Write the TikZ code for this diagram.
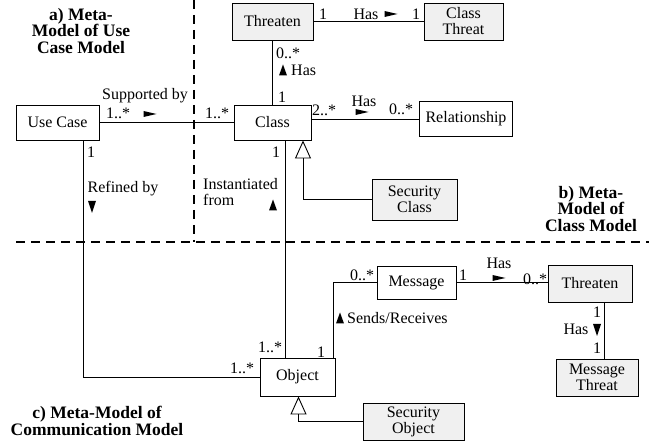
\documentclass[tikz,border=0pt]{standalone}
\usepackage{fontspec}
\setmainfont{Liberation Serif}
\usetikzlibrary{arrows.meta,calc}
\definecolor{boxgray}{RGB}{240,240,240}
\tikzset{
  box/.style={draw, line width=0.9pt, rectangle, align=center, inner sep=0pt,
    font=\fontsize{16}{16}\selectfont},
  gbox/.style={box, fill=boxgray},
  lab/.style={inner sep=0pt, font=\fontsize{16}{16}\selectfont},
  ttl/.style={inner sep=0pt, align=center, font=\fontsize{17.5}{16.5}\selectfont\bfseries},
  conn/.style={line width=0.9pt},
  gen/.style={line width=0.9pt, -{Triangle[open,length=18pt,width=16pt]}},
  sep/.style={line width=2.2pt, dash pattern=on 9pt off 6pt},
  pics/rtri/.style={code={\fill (-6.5,-3) -- (6.5,0) -- (-6.5,3) -- cycle;}},
  pics/utri/.style={code={\fill (-4,5.5) -- (0,-5.5) -- (4,5.5) -- cycle;}},
  pics/dtri/.style={code={\fill (-4,-6) -- (0,6) -- (4,-6) -- cycle;}},
}
\begin{document}
\begin{tikzpicture}[x=1pt,y=-1pt]
\useasboundingbox (0,0) rectangle (649,443);

% separators
\coordinate (vtop) at (194,0);
\coordinate (vbot) at (194,242);
\coordinate (hl) at (16,242);
\coordinate (hr) at (649,242);
\draw[sep] (vtop) -- (vbot);
\draw[sep] (hl) -- (hr);

% boxes
\node[gbox, minimum width=81pt, minimum height=37pt] (threat1) at (272.5,21.5) {Threaten};
\node[gbox, minimum width=79pt, minimum height=37pt] (classthreat) at (463.5,21.5) {Class\\Threat};
\node[box, minimum width=83pt, minimum height=35pt] (usecase) at (57.5,122.5) {Use Case};
\node[box, minimum width=77pt, minimum height=35pt] (class) at (272.5,122.5) {Class};
\node[box, minimum width=93pt, minimum height=35pt] (relationship) at (466,119) {Relationship};
\node[gbox, minimum width=85pt, minimum height=41pt] (secclass) at (414.5,199.5) {Security\\Class};
\node[box, minimum width=75pt, minimum height=38pt] (object) at (297.5,377) {Object};
\node[gbox, minimum width=101pt, minimum height=37pt] (secobject) at (413.5,421.5) {Security\\Object};
\node[box, minimum width=79pt, minimum height=33pt] (message) at (416.5,282.5) {Message};
\node[gbox, minimum width=84pt, minimum height=37pt] (threat2) at (590,283.5) {Threaten};
\node[gbox, minimum width=82pt, minimum height=37pt] (msgthreat) at (597,377.5) {Message\\Threat};

% connectors
\draw[conn] (threat1.east) -- (classthreat.west);
\draw[conn] (threat1.south) -- (class.north);
\draw[conn] (usecase.east) -- (class.west);
\draw[conn] (relationship.west -| class.east) -- (relationship.west);
\draw[gen] (secclass.west) -| ([xshift=30.5pt]class.south);
\draw[conn] ([xshift=25.5pt]usecase.south) |- (object.west);
\draw[conn] ([xshift=12.5pt]class.south) coordinate (cs) -- (cs |- object.north);
\draw[gen] (secobject.west) -| ([xshift=1pt]object.south);
\draw[conn] ([xshift=-2pt]object.north east) |- (message.west);
\draw[conn] (message.east) -- (message.east -| threat2.west);
\draw[conn] ([xshift=14pt]threat2.south) coordinate (ts) -- (ts |- msgthreat.north);

% labels: Threaten - Class Threat
\node[lab] (l1) at (323,14) {1};
\node[lab] (l2) at (366,14) {Has};
\pic at (391,14) {rtri};
\node[lab] (l3) at (416,14) {1};
% Threaten - Class
\node[lab] (l4) at (288,53) {0..*};
\pic at (283,70) {utri};
\node[lab, anchor=west] (l5) at (291,70) {Has};
\node[lab] (l6) at (282,97) {1};
% Use Case - Class
\node[lab] (l7) at (145,96) {Supported by};
\node[lab] (l8) at (118,113) {1..*};
\pic at (150,114) {rtri};
\node[lab] (l9) at (217,113) {1..*};
% Class - Relationship
\node[lab] (l10) at (324,110) {2..*};
\node[lab] (l11) at (364,101) {Has};
\pic at (362,112) {rtri};
\node[lab] (l12) at (401,109) {0..*};
% Use Case - Object
\node[lab] (l13) at (91,152) {1};
\node[lab] (l14) at (123,189) {Refined by};
\pic at (92,207) {dtri};
% Class - Object
\node[lab] (l15) at (276,152) {1};
\node[lab, anchor=west, align=left] (l16) at (203,192) {Instantiated\\from};
\pic at (273,205) {utri};
\node[lab] (l17) at (270,347) {1..*};
\node[lab] (l18) at (242,368) {1..*};
% Object - Message
\node[lab] (l19) at (321,352) {1};
\node[lab] (l20) at (362,275) {0..*};
\pic at (340,318) {utri};
\node[lab, anchor=west] (l21) at (347,318) {Sends/Receives};
% Message - Threaten
\node[lab] (l22) at (463,275) {1};
\node[lab] (l23) at (499,263) {Has};
\pic at (499,278) {rtri};
\node[lab] (l24) at (535,279) {0..*};
% Threaten - Message Threat
\node[lab] (l25) at (597,312) {1};
\node[lab] (l26) at (576,329) {Has};
\pic at (597,330) {dtri};
\node[lab] (l27) at (597,348) {1};

% titles
\node[ttl] (ta) at (81,31) {a) Meta-\\Model of Use\\Case Model};
\node[ttl] (tb) at (591,209) {b) Meta-\\Model of\\Class Model};
\node[ttl] (tc) at (97,421) {c) Meta-Model of\\Communication Model};
\end{tikzpicture}
\end{document}
